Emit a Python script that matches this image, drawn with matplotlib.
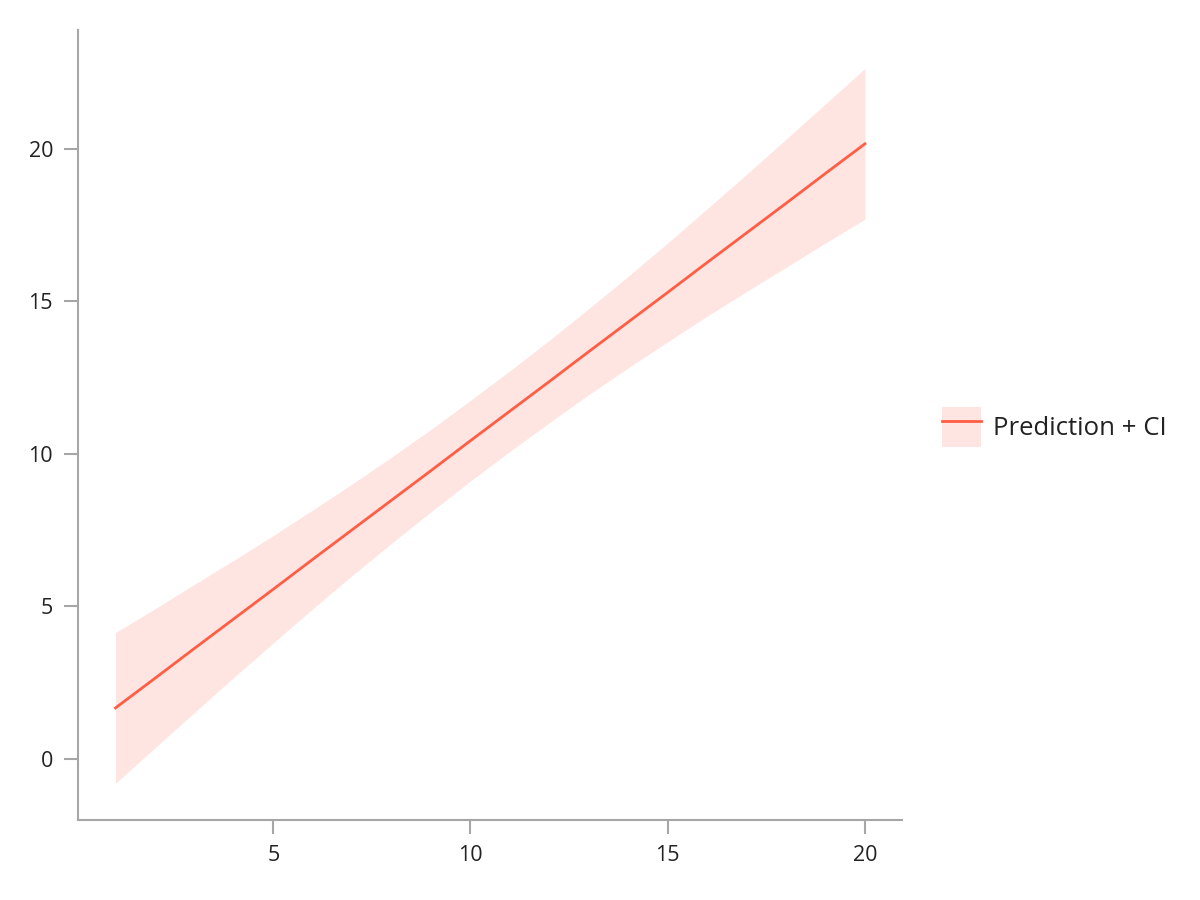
import matplotlib
matplotlib.use("Agg")
import matplotlib.pyplot as plt
from matplotlib.patches import Patch
from matplotlib.lines import Line2D

x = [1, 2, 3, 4, 5, 6, 7, 8, 9, 10, 11, 12, 13, 14, 15, 16, 17, 18, 19, 20]
pred = [1.67, 2.64, 3.62, 4.59, 5.56, 6.54, 7.51, 8.48, 9.45, 10.43,
        11.40, 12.37, 13.35, 14.32, 15.29, 16.27, 17.24, 18.21, 19.19, 20.16]
upper = [4.14, 4.92, 5.72, 6.51, 7.32, 8.16, 9.01, 9.89, 10.80, 11.75,
         12.72, 13.72, 14.76, 15.82, 16.91, 18.03, 19.16, 20.31, 21.47, 22.63]
lower = [-0.80, 0.36, 1.52, 2.67, 3.80, 4.92, 6.01, 7.07, 8.10, 9.11,
         10.08, 11.02, 11.94, 12.82, 13.67, 14.51, 15.32, 16.11, 16.91, 17.69]
xticks = [5, 10, 15, 20]
yticks = [0, 5, 10, 15, 20]
label = "Prediction + CI"

plt.rcParams['font.family'] = ['Open Sans', 'DejaVu Sans']

line_color = "#FF5E45"
band_color = "#FFE5E1"
spine_color = "#A6A6A6"
text_color = "#222222"

fig = plt.figure(figsize=(12, 9), dpi=100)
ax = fig.add_axes([0.065, 0.089, 0.687, 0.878])

ax.fill_between(x, lower, upper, color=band_color, linewidth=0)
ax.plot(x, pred, color=line_color, linewidth=2)

ax.set_xlim(0.05, 20.95)
ax.set_ylim(-2.0, 23.9)
ax.set_xticks(xticks)
ax.set_yticks(yticks)

for s in ['top', 'right']:
    ax.spines[s].set_visible(False)
for s in ['left', 'bottom']:
    ax.spines[s].set_color(spine_color)
    ax.spines[s].set_linewidth(1.5)
ax.tick_params(axis='both', color=spine_color, length=10, width=1.5,
               labelsize=15.5, pad=8)
ax.tick_params(axis='both', labelcolor=text_color)

handle = (Patch(facecolor=band_color, edgecolor='none'),
          Line2D([0], [0], color=line_color, linewidth=2))
leg = ax.legend([handle], [label], loc='center left', bbox_to_anchor=(1.035, 0.497),
                frameon=False, fontsize=18.5, handlelength=1.55, handleheight=2.0,
                handletextpad=0.45, borderaxespad=0)
for t in leg.get_texts():
    t.set_color(text_color)

fig.savefig("out.png", dpi=100)
